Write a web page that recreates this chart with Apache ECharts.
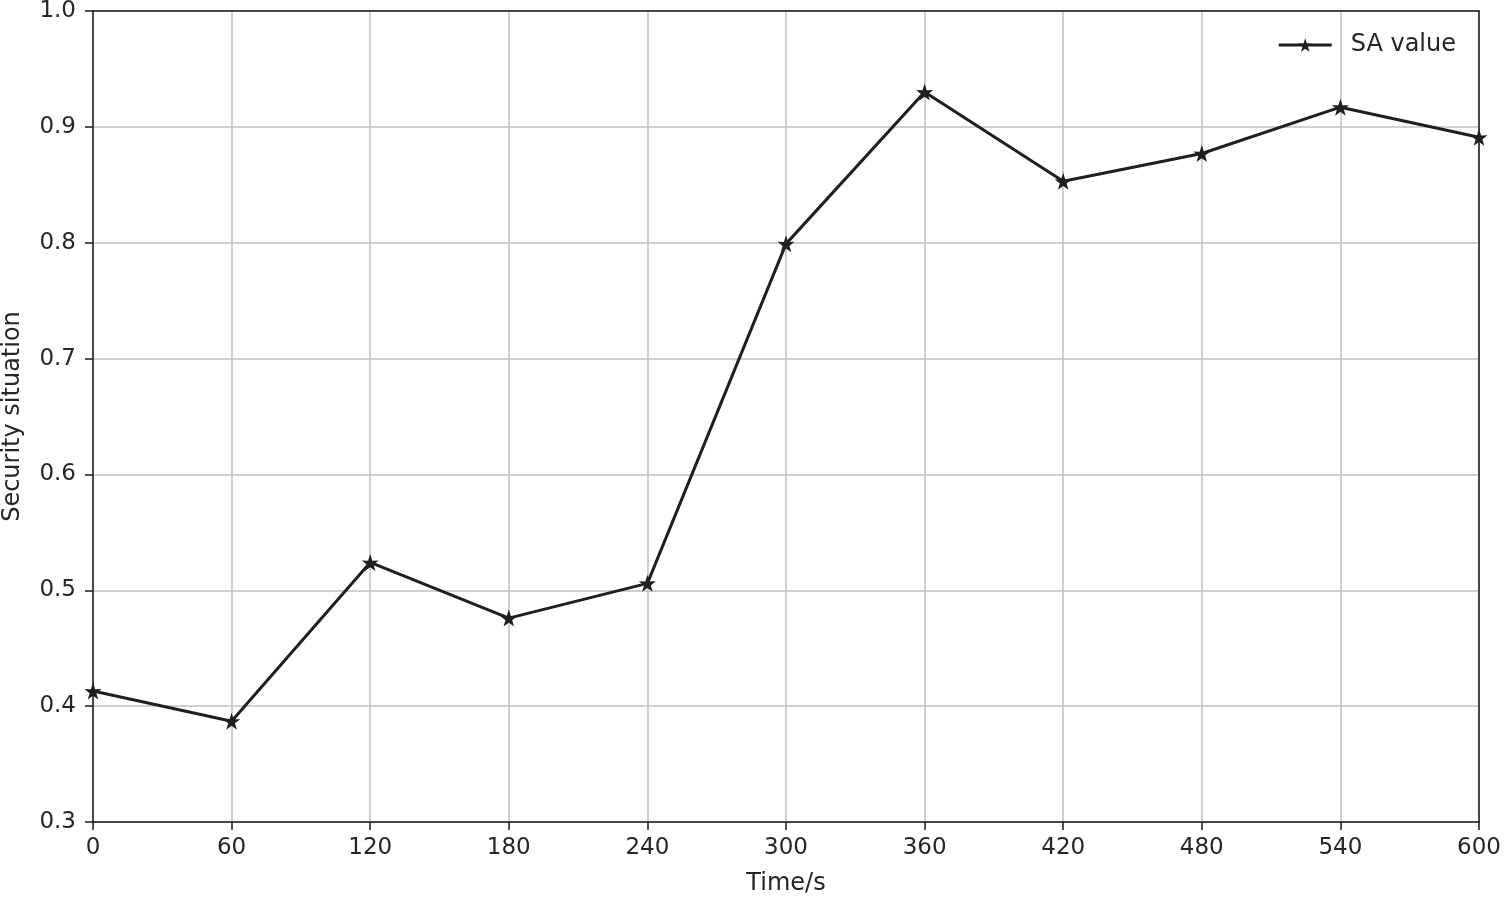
<!DOCTYPE html>
<html><head><meta charset="utf-8">
<script src="https://cdn.jsdelivr.net/npm/echarts@6/dist/echarts.min.js"></script>
<style>html,body{margin:0;padding:0;background:#fff}#c{width:1505px;height:898px}</style>
</head><body><div id="c"></div>
<script>
const times = [0, 60, 120, 180, 240, 300, 360, 420, 480, 540, 600];
const saValues = [0.413, 0.387, 0.524, 0.476, 0.506, 0.799, 0.930, 0.853, 0.877, 0.917, 0.891];
const seriesName = 'SA value';
const xTitle = 'Time/s';
const yTitle = 'Security situation';

const star = 'path://M50,0 L61.8,35.5 L97.6,34.5 L69,56.5 L79.4,90.5 L50,70 L20.6,90.5 L31,56.5 L2.4,34.5 L38.2,35.5 Z';
const chart = echarts.init(document.getElementById('c'), null, {renderer: 'canvas'});
const font = 'DejaVu Sans';
const dark = '#1a1a1a';
const txt = '#262626';
const frameAxis = (extra) => Object.assign({
  type: 'value', show: true,
  axisLine: {show: true, onZero: false, lineStyle: {color: dark, width: 1.5}},
  axisTick: {show: false}, axisLabel: {show: false}, splitLine: {show: false}
}, extra);
chart.setOption({
  animation: false,
  backgroundColor: '#fff',
  grid: {left: 93, right: 26, top: 11, bottom: 76, containLabel: false, outerBoundsMode: 'none'},
  legend: {
    top: 28, right: 44, itemWidth: 53, itemHeight: 17, itemGap: 14,
    lineStyle: {width: 3},
    textStyle: {fontFamily: font, fontSize: 24, color: txt, padding: [0, 0, 0, 14]},
    data: [{name: seriesName}]
  },
  xAxis: [{
    type: 'value', min: 0, max: 600, interval: 60,
    name: xTitle, nameLocation: 'middle', nameGap: 50,
    nameTextStyle: {fontFamily: font, fontSize: 24, color: txt},
    axisLine: {show: true, onZero: false, lineStyle: {color: dark, width: 1.5}},
    axisTick: {show: true, length: 8, lineStyle: {color: dark, width: 1.5}},
    axisLabel: {fontFamily: font, fontSize: 23, color: txt, margin: 15},
    splitLine: {show: true, lineStyle: {color: '#c0c0c0', width: 1.5}}
  }, frameAxis({position: 'top', min: 0, max: 600})],
  yAxis: [{
    type: 'value', min: 0.3, max: 1.0, interval: 0.1,
    name: yTitle, nameLocation: 'middle', nameGap: 68, nameRotate: 90,
    nameTextStyle: {fontFamily: font, fontSize: 24, color: txt},
    axisLine: {show: true, onZero: false, lineStyle: {color: dark, width: 1.5}},
    axisTick: {show: true, length: 8, lineStyle: {color: dark, width: 1.5}},
    axisLabel: {fontFamily: font, fontSize: 23, color: txt, margin: 17,
      formatter: v => v.toFixed(1)},
    splitLine: {show: true, lineStyle: {color: '#c0c0c0', width: 1.5}}
  }, frameAxis({position: 'right', min: 0.3, max: 1.0})],
  series: [{
    name: seriesName, type: 'line',
    data: times.map((t, i) => [t, saValues[i]]),
    symbol: star, symbolSize: 17,
    lineStyle: {color: '#1f1f1f', width: 3},
    itemStyle: {color: '#1f1f1f'},
    clip: false, z: 5
  }]
});
</script></body></html>
